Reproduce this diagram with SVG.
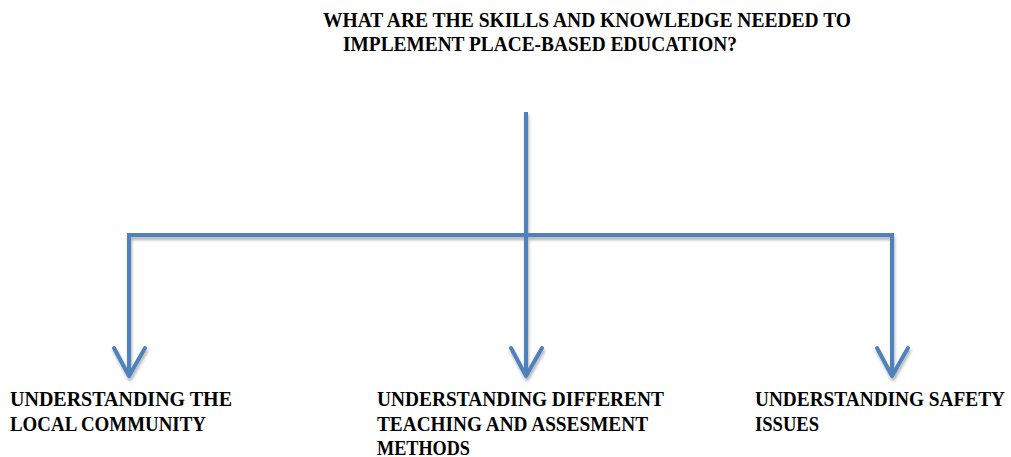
<svg xmlns="http://www.w3.org/2000/svg" width="1011" height="457" viewBox="0 0 1011 457">
<defs>
<filter id="sh" x="-10%" y="-10%" width="120%" height="130%">
<feDropShadow dx="1" dy="3" stdDeviation="1.5" flood-color="#000" flood-opacity="0.3"/>
</filter>
</defs>
<style>
.t{font-family:"Liberation Serif","DejaVu Serif",serif;font-weight:bold;font-size:21px;fill:#000}
.c{fill:none;stroke:#4f81bd;stroke-width:4;stroke-linecap:butt;stroke-linejoin:miter}
.h{fill:none;stroke:#4f81bd;stroke-width:4;stroke-linecap:round;stroke-linejoin:round}
</style>
<rect width="1011" height="457" fill="#fff"/>
<g id="title">
<text class="t" x="323" y="27" textLength="528" lengthAdjust="spacingAndGlyphs">WHAT ARE THE SKILLS AND KNOWLEDGE NEEDED TO</text>
<text class="t" x="343" y="51" textLength="394" lengthAdjust="spacingAndGlyphs">IMPLEMENT PLACE-BASED EDUCATION?</text>
</g>
<g id="connectors" filter="url(#sh)">
<path class="c" d="M526 112 V376"/>
<path class="c" d="M129 376 V235 H892 V376"/>
<path class="h" d="M114 348 L129 376 L145 348"/>
<path class="h" d="M511 348 L526 376 L542 348"/>
<path class="h" d="M877 348 L892 376 L908 348"/>
</g>
<g id="node-local">
<text class="t" x="10" y="406" textLength="222" lengthAdjust="spacingAndGlyphs">UNDERSTANDING THE</text>
<text class="t" x="10" y="431" textLength="196" lengthAdjust="spacingAndGlyphs">LOCAL COMMUNITY</text>
</g>
<g id="node-teaching">
<text class="t" x="377" y="406" textLength="287" lengthAdjust="spacingAndGlyphs">UNDERSTANDING DIFFERENT</text>
<text class="t" x="377" y="431" textLength="271" lengthAdjust="spacingAndGlyphs">TEACHING AND ASSESMENT</text>
<text class="t" x="377" y="455" textLength="93" lengthAdjust="spacingAndGlyphs">METHODS</text>
</g>
<g id="node-safety">
<text class="t" x="755" y="406" textLength="250" lengthAdjust="spacingAndGlyphs">UNDERSTANDING SAFETY</text>
<text class="t" x="755" y="431" textLength="64" lengthAdjust="spacingAndGlyphs">ISSUES</text>
</g>
</svg>
